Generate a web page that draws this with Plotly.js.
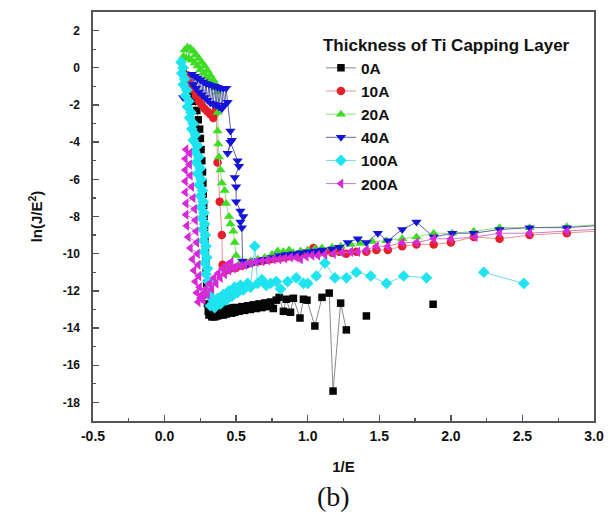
<!DOCTYPE html>
<html>
<head>
<meta charset="utf-8">
<script src="https://cdn.plot.ly/plotly-3.0.1.min.js"></script>
<style>html,body{margin:0;padding:0;background:#fff;}#chart{width:609px;height:516px;}</style>
</head>
<body>
<div id="chart"></div>
<script>
// ---- data ----
const seriesNames = ['0A', '10A', '20A', '40A', '100A', '200A'];

const x0A = [0.13,0.15,0.17,0.19,0.21,0.225,0.235,0.245,0.25,0.255,0.26,0.265,0.268,0.27,0.273,0.276,0.279,0.282,0.285,0.288,0.291,0.294,0.297,0.3,0.305,0.31,
  0.32,0.33,0.34,0.35,0.36,0.37,0.38,0.39,0.4,0.41,0.42,0.43,0.44,0.45,0.46,0.47,0.48,0.49,0.5,0.52,0.54,0.56,0.58,0.6,0.62,0.64,0.66,0.68,0.7,0.72,0.74,0.76,0.78,
  0.8,0.83,0.85,0.88,0.9,0.946,0.97,0.995,1.05,1.1,1.15,1.177,1.23,1.27,null,1.41,null,1.876];
const y0A = [-0.3,-0.6,-1.0,-1.4,-1.8,-2.3,-2.8,-3.3,-3.8,-4.4,-5.0,-5.6,-6.2,-6.8,-7.4,-8.0,-8.6,-9.2,-9.8,-10.4,-11.0,-11.6,-12.2,-12.7,-13.1,-13.3,
  -13.0,-13.4,-13.1,-13.4,-13.0,-13.35,-13.05,-13.3,-13.0,-13.3,-13.0,-13.25,-12.95,-13.2,-12.95,-13.2,-12.9,-13.15,-12.9,-13.1,-12.85,-13.05,-12.8,-13.0,-12.75,-12.95,-12.7,-12.9,-12.65,-12.85,-12.6,-12.95,-12.5,
  -12.35,-13.1,-12.45,-13.15,-12.4,-13.46,-12.45,-12.5,-13.89,-12.35,-12.12,-17.39,-12.66,-14.1,null,-13.35,null,-12.72];

const x10A = [0.16,0.18,0.2,0.22,0.24,0.26,0.28,0.3,0.32,0.34,0.35,0.36,0.37,0.385,0.40,0.405,0.43,0.46,0.5,0.54,0.58,0.62,0.66,0.7,0.74,0.78,0.82,0.86,0.9,0.94,0.98,1.02,1.04,1.08,1.12,1.17,1.22,1.27,1.34,1.41,1.48,1.56,1.66,1.76,1.88,2.0,2.16,2.34,2.55,2.81,3.1];
const y10A = [-0.4,-0.8,-1.2,-1.5,-1.8,-2.0,-2.2,-2.35,-2.5,-2.7,-2.5,-2.2,-5.1,-7.2,-9.0,-10.6,-10.9,-10.8,-10.75,-10.65,-10.55,-10.45,-10.4,-10.35,-10.3,-10.25,-10.2,-10.15,-10.1,-10.05,-10.0,-9.95,-9.7,-9.95,-9.9,-9.95,-9.9,-10.0,-9.9,-9.9,-9.8,-9.8,-9.6,-9.5,-9.5,-9.4,-9.1,-9.2,-9.0,-8.9,-8.75];

const x20A = [0.13,0.14,0.15,0.16,0.17,0.18,0.19,0.2,0.21,0.22,0.23,0.24,0.25,0.26,0.27,0.28,0.29,0.3,0.31,0.32,0.33,0.34,0.35,0.36,0.37,
  0.37,0.37,0.375,0.38,0.39,0.4,0.42,0.43,0.45,0.46,0.48,0.49,0.5,0.52,0.56,0.6,0.65,0.7,0.75,0.79,0.83,0.87,0.9,0.95,1.0,1.05,1.1,1.17,1.23,1.3,1.37,1.45,1.55,1.66,1.76,1.88,2.01,2.16,2.34,2.55,2.81,3.1];
const y20A = [0.6,0.95,0.5,1.1,0.5,1.05,0.4,0.9,0.25,0.7,0.1,0.5,-0.1,0.3,-0.3,0.1,-0.5,-0.15,-0.7,-0.4,-0.9,-0.65,-1.1,-0.9,-1.3,
  -2.4,-3.4,-4.1,-4.8,-5.5,-6.2,-6.6,-7.3,-8.0,-8.4,-8.8,-9.4,-10.1,-10.6,-10.55,-10.4,-10.3,-10.2,-10.05,-9.85,-9.9,-9.8,-9.95,-9.85,-9.8,-9.75,-9.7,-9.65,-9.6,-9.5,-9.45,-9.35,-9.3,-9.2,-9.1,-8.9,-8.9,-8.8,-8.6,-8.6,-8.55,-8.4];

const x40A = [0.13,0.19,0.2,0.21,0.22,0.23,0.24,0.25,0.26,0.27,0.28,0.29,0.3,0.31,0.32,0.33,0.34,0.35,0.36,0.37,0.38,0.39,0.4,0.41,0.42,0.43,0.44,
  0.46,0.47,0.44,0.46,0.51,0.52,0.49,0.5,0.5,0.53,0.55,0.53,0.54,0.545,0.58,0.62,0.66,0.7,0.75,0.8,0.85,0.9,0.95,1.0,1.05,1.1,1.17,1.22,1.28,1.35,1.41,1.49,1.56,1.66,1.76,1.88,2.01,2.16,2.34,2.55,2.81,3.1];
const y40A = [-1.6,-0.35,-0.9,-0.45,-1.1,-0.55,-1.3,-0.65,-1.45,-0.75,-1.6,-0.85,-1.75,-0.9,-1.9,-0.95,-1.95,-1.0,-2.0,-1.05,-2.1,-1.1,-2.2,-1.1,-2.0,-1.1,-1.85,
  -3.4,-3.9,-4.6,-4.0,-5.0,-5.3,-5.9,-6.4,-7.2,-7.7,-8.0,-8.3,-8.6,-10.4,-10.55,-10.45,-10.35,-10.3,-10.2,-10.1,-10.05,-10.0,-9.95,-9.9,-9.85,-9.8,-9.75,-9.65,-9.4,-9.2,-9.4,-8.9,-9.3,-8.7,-8.3,-9.1,-8.9,-8.9,-8.7,-8.6,-8.6,-8.45];

const x100A = [0.115,0.13,0.12,0.14,0.13,0.155,0.145,0.17,0.16,0.185,0.175,0.2,0.19,0.215,0.2,0.23,0.21,0.24,0.22,0.25,0.23,0.255,0.24,0.265,0.25,0.27,0.255,0.275,0.26,0.28,0.265,0.285,0.27,0.29,0.275,0.295,0.28,0.3,0.29,0.305,0.31,
  0.32,0.34,0.35,0.37,0.39,0.41,0.43,0.45,0.47,0.49,0.51,0.53,0.55,0.58,0.6,0.63,0.65,0.68,0.71,0.74,0.78,0.81,0.86,0.92,0.97,1.0,1.06,1.12,1.19,1.27,1.34,1.44,1.55,1.67,1.83,null,2.23,2.51];
const y100A = [0.3,0.0,-0.3,-0.6,-0.9,-1.2,-1.5,-1.8,-2.1,-2.4,-2.7,-3.0,-3.3,-3.6,-3.9,-4.2,-4.5,-4.8,-5.1,-5.4,-5.7,-6.0,-6.3,-6.6,-6.9,-7.2,-7.5,-7.8,-8.1,-8.4,-8.7,-9.0,-9.3,-9.6,-9.9,-10.2,-10.5,-10.8,-11.1,-11.5,-12.2,
  -12.8,-12.5,-12.9,-12.4,-12.7,-12.2,-12.5,-12.0,-12.3,-11.8,-12.1,-11.7,-11.95,-11.6,-11.8,-9.6,-11.6,-11.4,-11.7,-11.6,-11.5,-11.9,-11.5,-11.3,-11.6,-11.6,-11.2,-10.5,-11.3,-11.3,-11.0,-11.2,-11.6,-11.2,-11.3,null,-11.0,-11.6];

const x200A = [0.15,0.175,0.145,0.175,0.145,0.18,0.145,0.19,0.145,0.2,0.15,0.21,0.15,0.215,0.155,0.22,0.165,0.225,0.18,0.23,0.195,0.235,0.205,0.24,0.215,0.245,0.225,0.25,0.235,
  0.26,0.27,0.285,0.3,0.315,0.33,0.345,0.36,0.375,0.39,0.405,0.42,0.435,0.45,0.465,0.48,0.5,0.53,0.56,0.6,0.64,0.68,0.72,0.76,0.8,0.84,0.88,0.92,0.95,0.99,1.03,1.07,1.12,1.18,1.24,1.3,1.35,1.41,1.48,1.56,1.66,1.76,1.88,2.0,2.17,2.34,2.55,2.81,3.1];
const y200A = [-4.4,-4.6,-4.9,-5.2,-5.5,-5.8,-6.1,-6.4,-6.7,-7.0,-7.3,-7.6,-7.9,-8.2,-8.5,-8.8,-9.1,-9.4,-9.7,-10.0,-10.3,-10.6,-10.9,-11.2,-11.5,-11.8,-12.1,-12.4,-12.6,
  -12.2,-12.5,-11.9,-12.2,-11.6,-11.9,-11.3,-11.6,-11.05,-11.3,-10.8,-11.1,-10.6,-10.9,-10.45,-10.8,-10.7,-10.65,-10.6,-10.5,-10.45,-10.4,-10.35,-10.3,-10.3,-10.25,-10.2,-10.2,-10.3,-10.15,-10.1,-10.1,-10.05,-10.0,-9.95,-9.9,-9.9,-9.8,-9.6,-9.6,-9.4,-9.4,-9.2,-9.2,-9.1,-8.9,-8.9,-8.8,-8.65];

const xTickLabels = ['-0.5','0.0','0.5','1.0','1.5','2.0','2.5','3.0'];
const yTickLabels = ['2','0','-2','-4','-6','-8','-10','-12','-14','-16','-18'];

// ---- styling ----
const xs = [x0A, x10A, x20A, x40A, x100A, x200A];
const ys = [y0A, y10A, y20A, y40A, y100A, y200A];
const styles = [
  {symbol: 'square',        color: '#050505', line: '#8a8a8a', size: 7.5},
  {symbol: 'circle',        color: '#e5202a', line: '#f09090', size: 8.5},
  {symbol: 'triangle-up',   color: '#3fdc25', line: '#90e07e', size: 9},
  {symbol: 'triangle-down', color: '#1414d8', line: '#6262a8', size: 9},
  {symbol: 'diamond',       color: '#1fe4ef', line: '#6cdde6', size: 9},
  {symbol: 'triangle-left', color: '#d62ad8', line: '#cc7acc', size: 9}
];

const traces = seriesNames.map((name, i) => ({
  type: 'scatter',
  mode: 'lines+markers',
  name: name,
  x: xs[i],
  y: ys[i],
  connectgaps: false,
  line: {color: styles[i].line, width: 1},
  marker: {symbol: styles[i].symbol, color: styles[i].color, size: styles[i].size, line: {width: 0}}
}));

const fontFam = '"Liberation Sans", Arial, sans-serif';
const axisCol = '#555555';

const layout = {
  width: 609,
  height: 516,
  margin: {l: 93, r: 15, t: 12, b: 95},
  paper_bgcolor: '#ffffff',
  plot_bgcolor: '#ffffff',
  showlegend: true,
  font: {family: fontFam, color: '#111'},
  xaxis: {
    range: [-0.5, 3.0],
    tickvals: xTickLabels.map(Number),
    ticktext: xTickLabels,
    ticks: 'inside', ticklen: 6, tickwidth: 1.3, tickcolor: axisCol,
    minor: {ticks: 'inside', ticklen: 3, tickwidth: 1.2, tickcolor: axisCol, dtick: 0.25, showgrid: false},
    showline: true, linecolor: axisCol, linewidth: 1.6, mirror: true,
    showgrid: false, zeroline: false,
    tickfont: {size: 14, weight: 'bold', family: fontFam, color: '#111'},
    ticklabelstandoff: 2,
    title: {text: '1/E', font: {size: 15, weight: 'bold', family: fontFam, color: '#111'}, standoff: 18}
  },
  yaxis: {
    range: [-19, 3],
    tickvals: yTickLabels.map(Number),
    ticktext: yTickLabels,
    ticks: 'inside', ticklen: 6, tickwidth: 1.3, tickcolor: axisCol,
    minor: {ticks: 'inside', ticklen: 3, tickwidth: 1.2, tickcolor: axisCol, dtick: 1, showgrid: false},
    showline: true, linecolor: axisCol, linewidth: 1.6, mirror: true,
    showgrid: false, zeroline: false,
    tickfont: {size: 12, weight: 'bold', family: fontFam, color: '#111'},
    ticklabelstandoff: 9,
    title: {text: 'ln(J/E<sup>2</sup>)', font: {size: 15, weight: 'bold', family: fontFam, color: '#111'}, standoff: 16}
  },
  legend: {
    x: 0.455, y: 0.958, xanchor: 'left', yanchor: 'top',
    bgcolor: 'rgba(0,0,0,0)', borderwidth: 0,
    font: {size: 15.5, weight: 'bold', family: fontFam, color: '#111'},
    title: {text: 'Thickness of Ti Capping Layer', font: {size: 17, weight: 'bold', family: fontFam, color: '#111'}},
    itemwidth: 30
  },
  annotations: [{
    text: '(b)', xref: 'paper', yref: 'paper', x: 0.48, y: -0.185,
    xanchor: 'center', yanchor: 'middle', showarrow: false,
    font: {family: '"Liberation Serif", "Times New Roman", serif', size: 28, color: '#111'}
  }]
};

Plotly.newPlot('chart', traces, layout, {staticPlot: true, displayModeBar: false});
</script>
</body>
</html>
